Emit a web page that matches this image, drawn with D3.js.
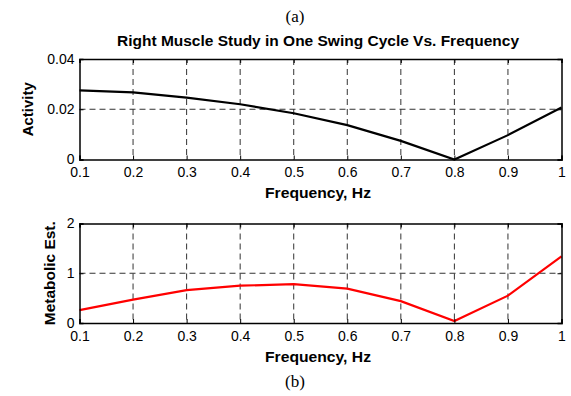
<!DOCTYPE html>
<html>
<head>
<script src="https://d3js.org/d3.v7.min.js"></script>
<style>
  body { margin: 0; background: #fff; }
  .tick text { font-family: Arial, "Liberation Sans", sans-serif; font-size: 14px; fill: #000; }
  .lbl { font-family: Arial, "Liberation Sans", sans-serif; font-weight: bold; font-size: 14px; fill: #000; }
  .cap { font-family: "Times New Roman", "Liberation Serif", serif; font-size: 17px; fill: #000; }
</style>
</head>
<body>
<svg id="chart" width="571" height="396"></svg>
<script>
// frequency steps and the two measured series
const freq = [0.1, 0.2, 0.3, 0.4, 0.5, 0.6, 0.7, 0.8, 0.9, 1.0];
const activity = [0.0275, 0.0267, 0.0246, 0.0220, 0.0184, 0.0137, 0.0074, 0.0000, 0.0097, 0.0207];
const metabolic = [0.26, 0.47, 0.66, 0.75, 0.78, 0.69, 0.44, 0.04, 0.55, 1.34];
const xTicks = [0.1, 0.2, 0.3, 0.4, 0.5, 0.6, 0.7, 0.8, 0.9, 1];
const actTicks = [0, 0.02, 0.04];
const metTicks = [0, 1, 2];

const svg = d3.select("#chart");
const left = 79.5, right = 561.5;

const x = d3.scaleLinear().domain([0.1, 1]).range([left, right]);

function panel(top, bottom, yDomain, yTicks, values, color, ylabel, ylabelX, ylabelLen) {
  const y = d3.scaleLinear().domain(yDomain).range([bottom, top]);
  const g = svg.append("g");

  // dashed grid
  g.selectAll(".vg").data(xTicks.slice(1, -1)).enter().append("line")
    .attr("x1", d => x(d)).attr("x2", d => x(d))
    .attr("y1", top).attr("y2", bottom)
    .attr("stroke", "#333").attr("stroke-width", 1).attr("stroke-dasharray", "6,4");
  g.selectAll(".hg").data(yTicks.slice(1, -1)).enter().append("line")
    .attr("x1", left).attr("x2", right)
    .attr("y1", d => y(d)).attr("y2", d => y(d))
    .attr("stroke", "#333").attr("stroke-width", 1).attr("stroke-dasharray", "6,4");

  // data line
  g.append("path")
    .datum(freq.map((f, i) => [f, values[i]]))
    .attr("fill", "none").attr("stroke", color).attr("stroke-width", 2.2)
    .attr("d", d3.line().x(d => x(d[0])).y(d => y(d[1])));

  // axes
  g.append("g").attr("transform", `translate(0,${bottom})`)
    .call(d3.axisBottom(x).tickValues(xTicks).tickSize(-4).tickPadding(8)
      .tickFormat(d => d === 1 ? "1" : d3.format(".1f")(d)));
  g.append("g").attr("transform", `translate(${left},0)`)
    .call(d3.axisLeft(y).tickValues(yTicks).tickSize(-4).tickPadding(5)
      .tickFormat(d => d === 0 ? "0" : String(d)));
  g.append("g").attr("transform", `translate(0,${top})`)
    .call(d3.axisTop(x).tickValues(xTicks).tickSize(-4).tickFormat(""));
  g.append("g").attr("transform", `translate(${right},0)`)
    .call(d3.axisRight(y).tickValues(yTicks).tickSize(-4).tickFormat(""));
  g.selectAll(".domain").attr("stroke", "#000").attr("stroke-width", 1.5);
  g.selectAll(".tick line").attr("stroke", "#000");

  // y label
  g.append("text").attr("class", "lbl")
    .attr("transform", `translate(${ylabelX},${(top + bottom) / 2}) rotate(-90)`)
    .attr("text-anchor", "middle")
    .attr("textLength", ylabelLen).attr("lengthAdjust", "spacingAndGlyphs")
    .text(ylabel);

  // x label
  g.append("text").attr("class", "lbl")
    .attr("x", 318).attr("y", bottom + 38.5)
    .attr("text-anchor", "middle")
    .attr("textLength", 106).attr("lengthAdjust", "spacingAndGlyphs")
    .text("Frequency, Hz");
}

svg.append("text").attr("class", "cap").attr("x", 295).attr("y", 22)
  .attr("text-anchor", "middle").text("(a)");
svg.append("text").attr("class", "lbl").attr("x", 318).attr("y", 46)
  .attr("text-anchor", "middle")
  .attr("textLength", 402).attr("lengthAdjust", "spacingAndGlyphs")
  .text("Right Muscle Study in One Swing Cycle Vs. Frequency");

panel(59, 159.5, [0, 0.04], actTicks, activity, "#000", "Activity", 33, 54);
panel(223.5, 323, [0, 2], metTicks, metabolic, "#ff0000", "Metabolic Est.", 55, 104);

svg.append("text").attr("class", "cap").attr("x", 295).attr("y", 387)
  .attr("text-anchor", "middle").text("(b)");
</script>
</body>
</html>
